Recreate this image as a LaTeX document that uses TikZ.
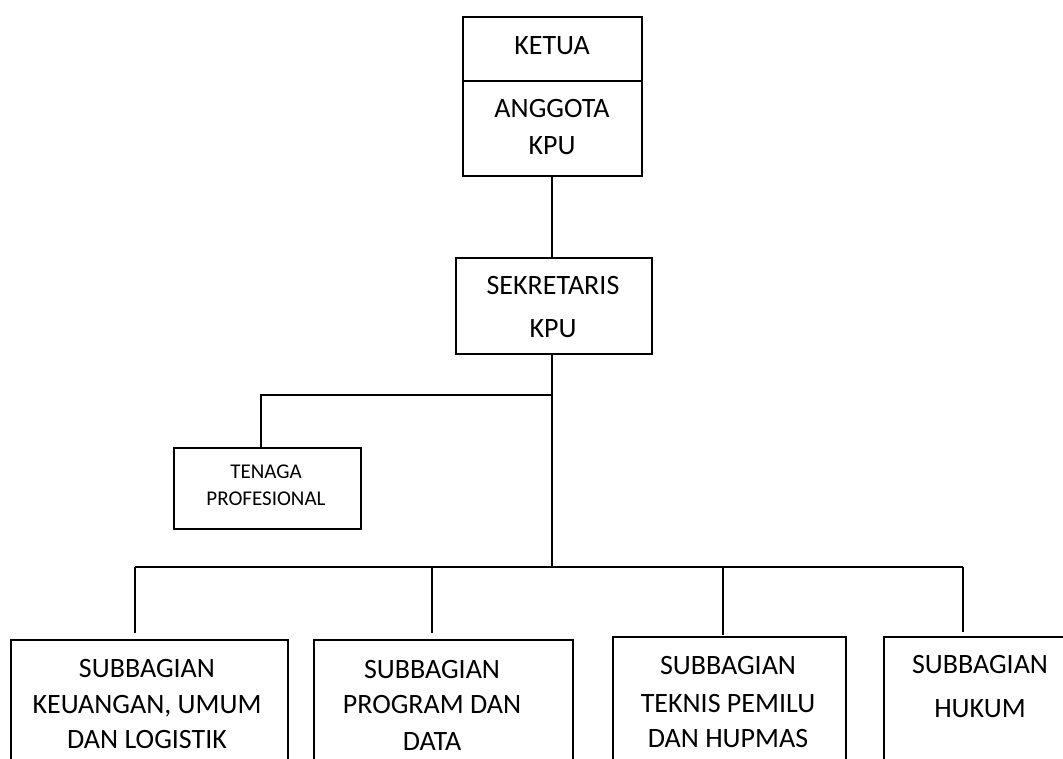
\documentclass[tikz,border=0pt]{standalone}
\usepackage{fontspec}
\setmainfont{Carlito}
\begin{document}
\begin{tikzpicture}[x=0.75pt,y=-0.75pt,
  box/.style={draw, line width=1.4pt, inner sep=0pt, anchor=north west},
  lbl/.style={font=\fontsize{21}{25}\selectfont, inner sep=0pt, anchor=base},
  slbl/.style={font=\fontsize{15.75}{19}\selectfont, inner sep=0pt, anchor=base},
  conn/.style={line width=1.4pt}]
\useasboundingbox (0,0) rectangle (1063,759);
\clip (0,0) rectangle (1063,759);
% boxes
\node[box, minimum width=134.25pt, minimum height=48pt] (ketua) at (462,16) {};
\node[box, minimum width=134.25pt, minimum height=71.25pt] (anggota) at (462,80) {};
\node[box, minimum width=147pt, minimum height=72pt] (sek) at (455,257) {};
\node[box, minimum width=140.25pt, minimum height=60.75pt] (ten) at (173,447) {};
\node[box, minimum width=207.75pt, minimum height=120.75pt] (sb1) at (10,639) {};
\node[box, minimum width=194.25pt, minimum height=120.75pt] (sb2) at (313,639) {};
\node[box, minimum width=174.75pt, minimum height=123pt] (sb3) at (612,636) {};
\node[box, minimum width=146.25pt, minimum height=123pt] (sb4) at (883,636) {};
% texts
\node[lbl] (t1) at (552,55) {KETUA};
\node[lbl] (t2) at (552,118) {ANGGOTA};
\node[lbl] (t3) at (552,155) {KPU};
\node[lbl] (t4) at (553,295) {SEKRETARIS};
\node[lbl] (t5) at (553,337) {KPU};
\node[slbl] (t6) at (266,478) {TENAGA};
\node[slbl] (t7) at (266,505) {PROFESIONAL};
\node[lbl] (t8) at (147,677) {SUBBAGIAN};
\node[lbl] (t9) at (147,713) {KEUANGAN, UMUM};
\node[lbl] (t10) at (147,748) {DAN LOGISTIK};
\node[lbl] (t11) at (432,678) {SUBBAGIAN};
\node[lbl] (t12) at (432,713) {PROGRAM DAN};
\node[lbl] (t13) at (432,750) {DATA};
\node[lbl] (t14) at (728,674) {SUBBAGIAN};
\node[lbl] (t15) at (728,712) {TEKNIS PEMILU};
\node[lbl] (t16) at (728,747) {DAN HUPMAS};
\node[lbl] (t17) at (980,673) {SUBBAGIAN};
\node[lbl] (t18) at (980,717) {HUKUM};
% junctions
\coordinate (j1) at (552,395);
\coordinate (j2) at (552,567);
\coordinate (b1) at (135,567);
\coordinate (b2) at (432,567);
\coordinate (b3) at (723,567);
\coordinate (b4) at (963,567);
\coordinate (tt) at (261,447);
% connectors
\draw[conn] (j1 |- anggota.south) -- (j1 |- sek.north);
\draw[conn] (j1 |- sek.south) -- (j2);
\draw[conn] (j1) -| (tt);
\draw[conn] (b1) -- (b4);
\draw[conn, shorten >=4.5pt] (b1) -- (b1 |- sb1.north);
\draw[conn, shorten >=4.5pt] (b2) -- (b2 |- sb2.north);
\draw[conn, shorten >=0.75pt] (b3) -- (b3 |- sb3.north);
\draw[conn, shorten >=3pt] (b4) -- (b4 |- sb4.north);
\end{tikzpicture}
\end{document}
